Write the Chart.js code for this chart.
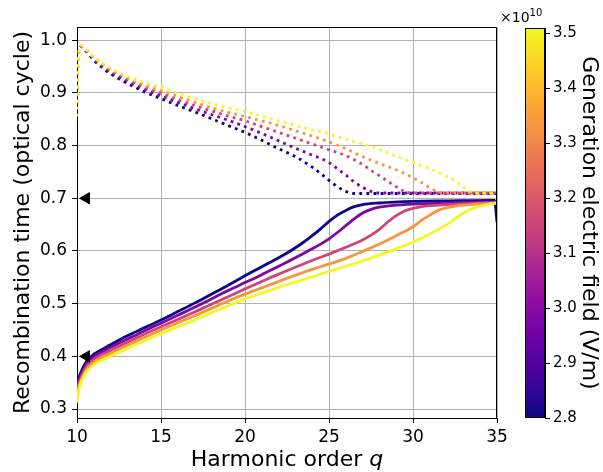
<!DOCTYPE html>
<html>
<head>
<meta charset="utf-8">
<script src="https://cdn.jsdelivr.net/npm/chart.js@4.4.0/dist/chart.umd.min.js"></script>
<style>
  html, body { margin: 0; padding: 0; background: #fff; }
  #wrap { position: relative; width: 603px; height: 472px; }
  #main { position: absolute; left: 0; top: 0; }
  #cbar { position: absolute; left: 500px; top: 0; }
</style>
</head>
<body>
<div id="wrap">
  <canvas id="main" width="603" height="472"></canvas>
  <canvas id="cbar" width="103" height="472"></canvas>
</div>
<script>
// generation field of each curve, in units of 1e10 V/m
const fields = [2.8, 2.9775, 3.155, 3.3325, 3.51];
const fieldMin = 2.8, fieldMax = 3.51;

// short trajectories (solid)
const qShortA = [10, 10.1, 10.3, 10.6, 11, 12, 13, 14, 15, 16, 17, 18, 19, 20, 21, 22, 22.5, 23, 23.5, 24, 24.5, 25, 25.5, 26, 26.5, 27, 28, 30, 32, 34.85, 35];
const tShortA = [0.345, 0.358, 0.375, 0.392, 0.404, 0.422, 0.439, 0.454, 0.469, 0.485, 0.501, 0.518, 0.535, 0.553, 0.570, 0.587, 0.596, 0.606, 0.617, 0.629, 0.642, 0.656, 0.668, 0.677, 0.684, 0.688, 0.691, 0.694, 0.695, 0.696, 0.655];
const qShortB = [10, 10.1, 10.3, 10.6, 11, 12, 13, 14, 15, 16, 17, 18, 19, 20, 21, 22, 23, 24, 24.5, 25, 25.5, 26, 26.5, 27, 27.5, 28, 29, 31, 33, 35];
const tShortB = [0.336, 0.352, 0.369, 0.387, 0.399, 0.417, 0.433, 0.448, 0.463, 0.478, 0.493, 0.509, 0.525, 0.540, 0.555, 0.571, 0.587, 0.604, 0.613, 0.623, 0.635, 0.648, 0.661, 0.672, 0.679, 0.683, 0.687, 0.690, 0.692, 0.693];
const qShortC = [10, 10.1, 10.3, 10.6, 11, 12, 13, 14, 15, 16, 17, 18, 19, 20, 21, 22, 23, 24, 25, 26, 27, 27.5, 28, 28.5, 29, 29.5, 30, 31, 32, 35];
const tShortC = [0.328, 0.346, 0.364, 0.382, 0.394, 0.411, 0.427, 0.442, 0.456, 0.470, 0.484, 0.499, 0.513, 0.528, 0.542, 0.556, 0.569, 0.582, 0.594, 0.607, 0.621, 0.630, 0.641, 0.655, 0.667, 0.676, 0.681, 0.686, 0.688, 0.692];
const qShortD = [10, 10.1, 10.3, 10.6, 11, 12, 13, 14, 15, 16, 17, 18, 19, 20, 21, 22, 23, 24, 25, 26, 27, 28, 29, 30, 30.5, 31, 31.5, 32, 33, 35];
const tShortD = [0.320, 0.340, 0.359, 0.377, 0.389, 0.406, 0.421, 0.436, 0.450, 0.464, 0.477, 0.491, 0.505, 0.518, 0.530, 0.542, 0.554, 0.565, 0.575, 0.586, 0.599, 0.613, 0.629, 0.646, 0.658, 0.668, 0.677, 0.682, 0.687, 0.691];
const qShortE = [10, 10.1, 10.3, 10.6, 11, 12, 13, 14, 15, 16, 17, 18, 19, 20, 21, 22, 23, 24, 25, 26, 27, 28, 29, 30, 31, 32, 32.5, 33, 33.5, 34, 35];
const tShortE = [0.312, 0.335, 0.355, 0.372, 0.384, 0.400, 0.415, 0.429, 0.443, 0.456, 0.469, 0.483, 0.496, 0.509, 0.520, 0.531, 0.541, 0.551, 0.561, 0.571, 0.581, 0.592, 0.604, 0.617, 0.632, 0.650, 0.661, 0.672, 0.680, 0.685, 0.691];

// long trajectories (dotted)
const qLongA = [10.2, 10.6, 11, 11.5, 12, 13, 14, 15, 16, 17, 18, 19, 20, 21, 22, 23, 24, 24.5, 25, 25.5, 26, 26.5, 35];
const tLongA = [0.990, 0.977, 0.962, 0.948, 0.936, 0.918, 0.902, 0.889, 0.876, 0.864, 0.851, 0.838, 0.825, 0.810, 0.794, 0.779, 0.759, 0.747, 0.734, 0.722, 0.713, 0.709, 0.709];
const qLongB = [10.2, 10.6, 11, 12, 13, 14, 15, 16, 17, 18, 19, 20, 21, 22, 23, 24, 25, 25.5, 26, 26.5, 27, 27.5, 28, 35];
const tLongB = [0.990, 0.978, 0.964, 0.940, 0.922, 0.907, 0.894, 0.882, 0.870, 0.859, 0.848, 0.836, 0.823, 0.809, 0.795, 0.782, 0.768, 0.756, 0.744, 0.731, 0.721, 0.713, 0.710, 0.710];
const qLongC = [10.2, 10.6, 11, 12, 13, 14, 15, 16, 17, 18, 19, 20, 21, 22, 23, 24, 25, 26, 27, 27.5, 28, 28.5, 29, 29.5, 30, 35];
const tLongC = [0.990, 0.979, 0.966, 0.943, 0.926, 0.911, 0.899, 0.887, 0.876, 0.866, 0.856, 0.847, 0.836, 0.825, 0.814, 0.803, 0.792, 0.781, 0.764, 0.753, 0.743, 0.732, 0.722, 0.713, 0.710, 0.710];
const qLongD = [10, 10.05, 10.1, 10.2, 10.6, 11, 12, 13, 14, 15, 16, 17, 18, 19, 20, 21, 22, 23, 24, 25, 26, 27, 28, 29, 30, 30.5, 31, 31.5, 32, 35];
const tLongD = [0.880, 0.940, 0.972, 0.988, 0.980, 0.967, 0.945, 0.929, 0.915, 0.904, 0.893, 0.882, 0.872, 0.863, 0.855, 0.847, 0.838, 0.828, 0.818, 0.807, 0.794, 0.779, 0.766, 0.754, 0.739, 0.730, 0.720, 0.712, 0.710, 0.710];
const qLongE = [10, 10.03, 10.07, 10.12, 10.25, 10.6, 11, 12, 13, 14, 15, 16, 17, 18, 19, 20, 21, 22, 23, 24, 25, 26, 27, 28, 29, 30, 31, 32, 32.5, 33, 33.5, 34, 35];
const tLongE = [0.855, 0.910, 0.955, 0.978, 0.990, 0.980, 0.968, 0.947, 0.931, 0.920, 0.910, 0.899, 0.889, 0.880, 0.872, 0.865, 0.856, 0.847, 0.838, 0.830, 0.822, 0.812, 0.803, 0.793, 0.780, 0.768, 0.756, 0.742, 0.733, 0.721, 0.712, 0.710, 0.710];

// black arrow markers on the left edge
const markerQ = [10.55, 10.55];
const markerT = [0.7, 0.4];

const qTicks = [10, 15, 20, 25, 30, 35];
const tTicks = [0.3, 0.4, 0.5, 0.6, 0.7, 0.8, 0.9, 1.0];
const fieldTicks = [2.8, 2.9, 3.0, 3.1, 3.2, 3.3, 3.4, 3.5];

const shortQ = [qShortA, qShortB, qShortC, qShortD, qShortE];
const shortT = [tShortA, tShortB, tShortC, tShortD, tShortE];
const longQ = [qLongA, qLongB, qLongC, qLongD, qLongE];
const longT = [tLongA, tLongB, tLongC, tLongD, tLongE];

// plasma colormap
const plasma = ['#0d0887', '#41049d', '#6a00a8', '#8f0da4', '#b12a90', '#cc4778', '#e16462', '#f2844b', '#fca636', '#fcce25', '#f0f921'];
function plasmaColor(f) {
  const p = Math.min(Math.max(f, 0), 1) * (plasma.length - 1);
  const i = Math.min(Math.floor(p), plasma.length - 2);
  const k = p - i;
  const a = parseInt(plasma[i].slice(1), 16), b = parseInt(plasma[i + 1].slice(1), 16);
  const ch = s => Math.round(((a >> s) & 255) * (1 - k) + ((b >> s) & 255) * k);
  return `rgb(${ch(16)}, ${ch(8)}, ${ch(0)})`;
}

const FONT = '"DejaVu Sans", sans-serif';

const datasets = [];
fields.forEach((f, i) => {
  const c = plasmaColor((f - fieldMin) / (fieldMax - fieldMin));
  datasets.push({
    data: shortQ[i].map((q, j) => ({ x: q, y: shortT[i][j] })),
    borderColor: c, borderWidth: 2.8, pointRadius: 0, fill: false,
    cubicInterpolationMode: 'monotone'
  });
  datasets.push({
    data: longQ[i].map((q, j) => ({ x: q, y: longT[i][j] })),
    borderColor: c, borderWidth: 2.8, pointRadius: 0, fill: false,
    borderDash: [2.8, 4.3], borderCapStyle: 'butt',
    cubicInterpolationMode: 'monotone'
  });
});
datasets.push({
  data: markerQ.map((q, j) => ({ x: q, y: markerT[j] })),
  showLine: false, pointStyle: 'triangle', rotation: -90, pointRadius: 6.5,
  backgroundColor: '#000', borderColor: '#000', borderWidth: 1, clip: false
});
datasets.forEach((d, i) => { d.order = -i; });

const framePlugin = {
  id: 'frame',
  afterDraw(chart) {
    const { ctx, chartArea: a } = chart;
    ctx.save();
    ctx.strokeStyle = '#000';
    ctx.lineWidth = 1;
    ctx.beginPath();
    ctx.moveTo(a.left, a.top + 0.5);
    ctx.lineTo(a.right - 0.5, a.top + 0.5);
    ctx.lineTo(a.right - 0.5, a.bottom);
    ctx.stroke();

    ctx.fillStyle = '#000';
    ctx.textBaseline = 'alphabetic';
    // x title with italic q
    const t1 = 'Harmonic order ', t2 = 'q';
    ctx.font = '22px ' + FONT;
    const w1 = ctx.measureText(t1).width;
    ctx.font = 'italic 22px ' + FONT;
    const w2 = ctx.measureText(t2).width;
    let x0 = (a.left + a.right) / 2 - (w1 + w2) / 2;
    ctx.textAlign = 'left';
    ctx.font = '22px ' + FONT;
    ctx.fillText(t1, x0, 466);
    ctx.font = 'italic 22px ' + FONT;
    ctx.fillText(t2, x0 + w1, 466);

    // y title
    ctx.font = '22px ' + FONT;
    ctx.textAlign = 'center';
    ctx.translate(29, (a.top + a.bottom) / 2);
    ctx.rotate(-Math.PI / 2);
    ctx.fillText('Recombination time (optical cycle)', 0, 0);
    ctx.restore();
  }
};

new Chart(document.getElementById('main'), {
  type: 'line',
  data: { datasets },
  options: {
    responsive: false, animation: false, devicePixelRatio: 1,
    layout: { padding: { left: 0, top: 27, right: 106, bottom: 0 } },
    plugins: { legend: { display: false }, tooltip: { enabled: false } },
    scales: {
      x: {
        type: 'linear', min: 10, max: 35,
        afterBuildTicks: s => { s.ticks = qTicks.map(v => ({ value: v })); },
        afterFit: s => { s.height = 54; },
        ticks: { font: { family: FONT, size: 17 }, color: '#000', padding: 4, maxRotation: 0 },
        grid: { color: '#b0b0b0', lineWidth: 1, tickColor: '#000', tickLength: 5 },
        border: { color: '#000', width: 1 }
      },
      y: {
        type: 'linear', min: 0.283, max: 1.025,
        afterBuildTicks: s => { s.ticks = tTicks.map(v => ({ value: v })); },
        afterFit: s => { s.width = 77; },
        ticks: { font: { family: FONT, size: 17 }, color: '#000', padding: 5, callback: v => v.toFixed(1) },
        grid: { color: '#b0b0b0', lineWidth: 1, tickColor: '#000', tickLength: 5 },
        border: { color: '#000', width: 1 }
      }
    }
  },
  plugins: [framePlugin]
});

// colorbar
const colorbarPlugin = {
  id: 'colorbar',
  beforeDatasetsDraw(chart) {
    const { ctx, chartArea: a } = chart;
    const g = ctx.createLinearGradient(0, a.bottom, 0, a.top);
    plasma.forEach((c, k) => g.addColorStop(k / (plasma.length - 1), c));
    ctx.save();
    ctx.fillStyle = g;
    ctx.fillRect(a.left, a.top, a.right - a.left, a.bottom - a.top);
    ctx.restore();
  },
  afterDraw(chart) {
    const { ctx, chartArea: a } = chart;
    ctx.save();
    ctx.strokeStyle = '#000';
    ctx.lineWidth = 1;
    ctx.strokeRect(a.left + 0.5, a.top + 0.5, a.right - a.left - 1, a.bottom - a.top - 1);
    ctx.fillStyle = '#000';
    ctx.textAlign = 'left';
    ctx.textBaseline = 'alphabetic';
    ctx.font = '14px ' + FONT;
    ctx.fillText('\u00d710', 0, 22);
    const w = ctx.measureText('\u00d710').width;
    ctx.font = '10px ' + FONT;
    ctx.fillText('10', w, 16);
    ctx.font = '22px ' + FONT;
    ctx.textAlign = 'center';
    ctx.translate(83, (a.top + a.bottom) / 2);
    ctx.rotate(Math.PI / 2);
    ctx.fillText('Generation electric field (V/m)', 0, 0);
    ctx.restore();
  }
};

new Chart(document.getElementById('cbar'), {
  type: 'line',
  data: { datasets: [] },
  options: {
    responsive: false, animation: false, devicePixelRatio: 1,
    layout: { padding: { left: 25, top: 28, right: 0, bottom: 54 } },
    plugins: { legend: { display: false }, tooltip: { enabled: false } },
    scales: {
      x: { type: 'linear', display: false, min: 0, max: 1 },
      y: {
        type: 'linear', position: 'right', min: fieldMin, max: fieldMax,
        afterBuildTicks: s => { s.ticks = fieldTicks.map(v => ({ value: v })); },
        afterFit: s => { s.width = 58; },
        ticks: { font: { family: FONT, size: 15 }, color: '#000', padding: 3, callback: v => v.toFixed(1) },
        grid: { drawOnChartArea: false, tickColor: '#000', tickLength: 5 },
        border: { color: '#000', width: 1 }
      }
    }
  },
  plugins: [colorbarPlugin]
});
</script>
</body>
</html>
